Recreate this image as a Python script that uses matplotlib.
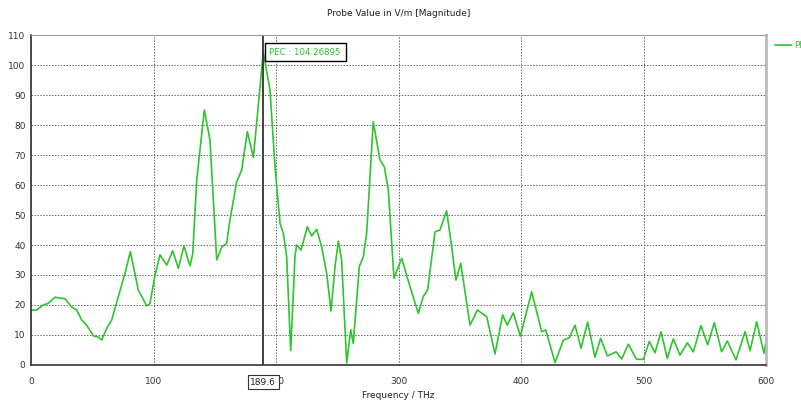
import matplotlib
matplotlib.use('Agg')
import matplotlib.pyplot as plt
from matplotlib.lines import Line2D
from matplotlib.transforms import blended_transform_factory

# probe magnitude
freq = [0, 4.6, 10, 14, 19.6, 23.7, 27.8, 33, 37.3, 41.4, 45.4, 50.9, 55, 57.7,
        61.8, 65.9, 71.3, 76.7, 81.1, 87.6, 94.4, 97.1, 101, 105.3, 110.8, 115.7,
        120.3, 124.9, 129.8, 132, 135.3, 141.5, 146.1, 151.6, 155.7, 159.7, 162.4,
        167.9, 172, 176.6, 181.5, 184.2, 189.6, 195.1, 199.2, 203.3, 206, 208.7,
        212, 215.5, 216.9, 220.4, 225.6, 229.1, 233.2, 237.3, 241.4, 244.9, 248.2,
        250.9, 253.6, 257.7, 261, 263.1, 268, 271.3, 274, 279.4, 284.9, 288.4,
        291.7, 296.3, 302.6, 309.4, 316.2, 320.2, 323.8, 329.8, 333.9, 339.3,
        343.4, 346.9, 350.8, 358.4, 364.4, 372, 378.8, 385, 388.8, 393.7, 399.5,
        408.7, 416.9, 420.2, 427.8, 434.6, 439.5, 444.1, 449, 454.4, 460.4, 465,
        470.5, 477.6, 482.2, 487.6, 494.4, 499.9, 504.7, 509.4, 514.3, 519.4,
        524.3, 529.8, 535.8, 540.7, 546.9, 552.4, 557.8, 563.8, 568.4, 575.5,
        582.9, 587, 592.4, 598.4, 600]
mag = [18.3, 18.3, 20, 20.5, 22.6, 22.3, 22.1, 19.4, 18.3, 15, 13.3, 9.7, 9.3, 8.3,
       12.2, 15, 22.8, 30.5, 37.8, 25, 19.7, 20.5, 29.4, 36.7, 33.3, 38.1,
       32.2, 39.7, 33, 37, 61.7, 85, 75, 35, 39.4, 40.5, 48.3,
       61.1, 65, 77.8, 69.2, 80.6, 104.27, 91.7, 66, 47.2, 43.9, 36.1,
       4.8, 36.1, 40, 38.3, 46.1, 43, 45.2, 39.4, 30.5, 18, 32.8,
       41.3, 35, 0.6, 11.7, 7.2, 32.8, 36.1, 43.9, 81.1, 68.3, 66.1,
       58.3, 28.9, 35.6, 26.1, 17.2, 22.8, 25, 44.4, 45, 51.4,
       39.4, 28.3, 33.9, 13.3, 18.3, 16.1, 3.7, 16.7, 13.3, 17.4, 9.6,
       24.4, 11.1, 11.7, 0.8, 8.3, 9.1, 13.3, 5.6, 14.3, 2.6, 8.9,
       3, 4.4, 2, 6.9, 1.9, 1.9, 7.8, 4.1, 11.1, 2.2,
       8.7, 3.3, 7.4, 4.4, 13.1, 6.7, 14.1, 4.4, 8, 1.7,
       11.1, 4.8, 14.4, 3.9, 7.8]

marker_f = 189.6
marker_val = 104.26895
green = '#2ec42e'

plt.rcParams['font.family'] = ['DejaVu Sans']
fig = plt.figure(figsize=(8.01, 4.04), dpi=100)
ax = fig.add_axes([31 / 801, 1 - 365 / 404, 735 / 801, 330 / 404])

ax.plot(freq, mag, color=green, lw=1.2)
ax.axvline(marker_f, color='#333333', lw=1.3)

ax.set_xlim(0, 600)
ax.set_ylim(0, 110)
ax.set_xticks(range(0, 601, 100))
ax.set_yticks(range(0, 111, 10))
ax.grid(True, color='#666666', ls=(0, (1.5, 1.5)), lw=0.7)
ax.tick_params(labelsize=6.5, length=0, colors='#333333')
ax.tick_params(axis='x', pad=9)
ax.tick_params(axis='y', pad=4)

for s in ['left', 'bottom']:
    ax.spines[s].set_color('#333333')
    ax.spines[s].set_linewidth(1.2)
ax.spines['top'].set_color('#999999')
ax.spines['right'].set_color('#bbbbbb')
ax.spines['right'].set_linewidth(2)

ax.set_title('Probe Value in V/m [Magnitude]', fontsize=6.5, pad=14, color='#222222')
ax.set_xlabel('Frequency / THz', fontsize=6.5, labelpad=3, color='#222222')

# marker readouts
ax.text(marker_f + 5, marker_val, 'PEC : 104.26895', fontsize=6.2, color=green,
        va='center', ha='left',
        bbox=dict(boxstyle='square,pad=0.55', fc='white', ec='black', lw=1))
trans = blended_transform_factory(ax.transData, ax.transAxes)
ax.text(marker_f, -0.052, '189.6', transform=trans, fontsize=6.5, color='#222222',
        ha='center', va='center', zorder=5,
        bbox=dict(boxstyle='square,pad=0.3', fc='white', ec='#333333', lw=0.8))

# legend entry partly off the right edge
fig.add_artist(Line2D([775 / 801, 791 / 801], [1 - 45 / 404, 1 - 45 / 404],
                      color=green, lw=1.2, transform=fig.transFigure))
fig.text(794 / 801, 1 - 45 / 404, 'PEC', fontsize=6.5, color=green, va='center')

fig.savefig('out.png', dpi=100)
